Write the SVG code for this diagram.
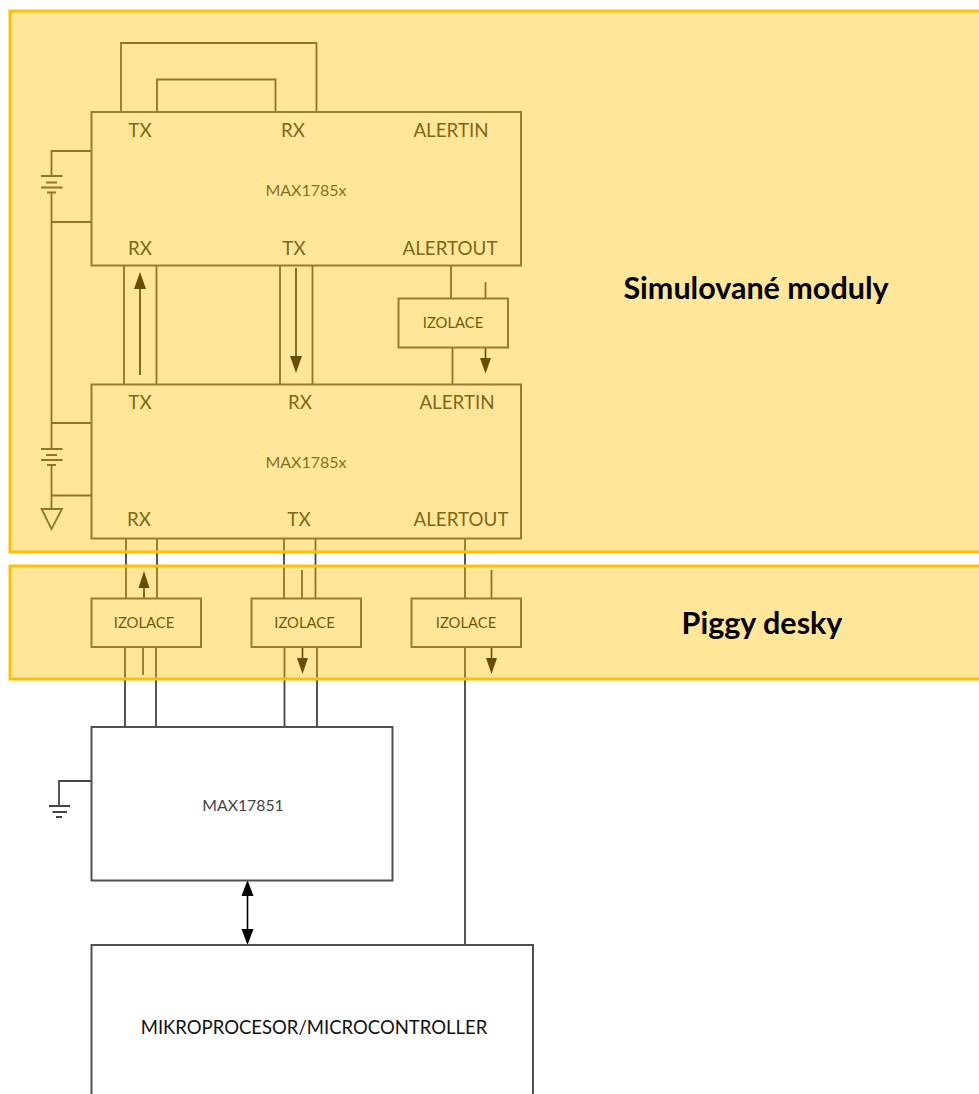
<svg xmlns="http://www.w3.org/2000/svg" width="979" height="1094" viewBox="0 0 979 1094">
<style>
.w{fill:none;stroke:#444;stroke-width:1.8}
.b{fill:none;stroke:#505050;stroke-width:2}
.a{fill:none;stroke:#000;stroke-width:1.6}
.h{fill:#000}
text{font-family:"Lato","Liberation Sans",sans-serif;text-anchor:middle;dominant-baseline:central}
.l{font-size:18.800px;fill:#2a2a2a}
.m{font-size:16px;fill:#3a3a3a}
.i{font-size:14.800px;fill:#111}
.p{fill:#FFC000;fill-opacity:.4}
.e{fill:none;stroke:#FFC000;stroke-width:3}
.t{font-size:30.500px;font-weight:700;fill:#000}
</style>
<rect width="979" height="1094" fill="#fff"/>
<g id="connectors">
<path class="w" d="M121 112V43H316.500V112M157 112V79.500H275.500V112M316.500 95V112"/>
<path class="w" d="M91 151H51.500V175.500M41 176H62.500M46 182.500H57M41 187.500H62.500M47 192.500H56M51.500 192.500V423M51.500 222H91"/>
<path class="w" d="M51.500 423H91M51.500 423V449M41 449H62.500M46 455H57M41 460H62.500M47 465H56M51.500 465V509M51.500 495.500H91M51.500 509H41.500L51.500 529L62 509H51.500"/>
<path class="w" d="M124 265V384M156.500 265V384M280 265V384M312.500 265V384"/>
<path class="w" d="M451 265V298.500M485.500 282V298.500M452.500 347.500V384"/>
<path class="w" d="M126 538V598.500M157 538V598.500M284 538V598.500M315.500 538V598.500M465 538V598.500M465 647V945"/>
<path class="w" d="M302 570V598.500M491.500 570V598.500"/>
<path class="w" d="M125 647V727M156 647V727M284.500 647V727M317 647V727M143 647V675"/>
<path class="w" d="M91 781H59V806M49 806H70M52.500 812H67M56 817H62"/>
<path class="a" d="M140 286V375M296 268V358M144 598.500V586M302.500 647V660M485.500 347.500V360M491.500 647V660M247.500 892V932"/>
<path class="h" d="M140 272L134 289H146ZM296 373L290 356H302ZM144 571L138.500 588H149.500ZM302.500 674L297 658H308ZM485.500 373.500L480 358H491ZM491.500 674L486 658H497ZM247.500 880L241.500 896H253.500ZM247.500 945L241.500 929H253.500Z"/>
</g>
<g id="node-max1785x-top"><rect class="b" x="91.500" y="112" width="429.500" height="153.500"/>
<text class="l" x="140" y="129">TX</text><text class="l" x="293" y="129">RX</text><text class="l" x="451" y="129">ALERTIN</text><text class="m" x="306" y="189">MAX1785x</text><text class="l" x="140" y="247">RX</text><text class="l" x="294" y="247">TX</text><text class="l" x="450" y="247">ALERTOUT</text></g>
<g id="node-max1785x-bottom"><rect class="b" x="91.500" y="384.500" width="429.500" height="154"/>
<text class="l" x="140" y="401">TX</text><text class="l" x="300" y="401">RX</text><text class="l" x="457" y="401">ALERTIN</text><text class="m" x="306" y="461">MAX1785x</text><text class="l" x="139" y="518">RX</text><text class="l" x="299" y="518">TX</text><text class="l" x="461" y="518">ALERTOUT</text></g>
<g id="node-izolace-1"><rect class="b" x="398.500" y="298.500" width="109.500" height="49"/><text class="i" x="453" y="322">IZOLACE</text></g>
<g id="node-izolace-2"><rect class="b" x="91.500" y="598.500" width="109.500" height="48.500"/><text class="i" x="144" y="622">IZOLACE</text></g>
<g id="node-izolace-3"><rect class="b" x="251.500" y="598.500" width="109.500" height="48.500"/><text class="i" x="304.500" y="622">IZOLACE</text></g>
<g id="node-izolace-4"><rect class="b" x="411.500" y="598.500" width="109.500" height="48.500"/><text class="i" x="466" y="622">IZOLACE</text></g>
<g id="node-max17851"><rect class="b" x="91.500" y="727" width="301" height="153.500"/><text x="243" y="804" font-size="15.800" fill="#444">MAX17851</text></g>
<g id="node-mcu"><path class="b" d="M91.500 1094V945H533V1094"/><text x="314" y="1027" font-size="18.500" fill="#111">MIKROPROCESOR/MICROCONTROLLER</text></g>
<g id="panel-simulovane"><rect class="p" x="10" y="11" width="975" height="541"/><rect class="e" x="10" y="11" width="975" height="541"/><text class="t" x="756" y="287">Simulované moduly</text></g>
<g id="panel-piggy"><rect class="p" x="10" y="566" width="975" height="113"/><rect class="e" x="10" y="566" width="975" height="113"/><text class="t" x="762" y="622">Piggy desky</text></g>
</svg>
